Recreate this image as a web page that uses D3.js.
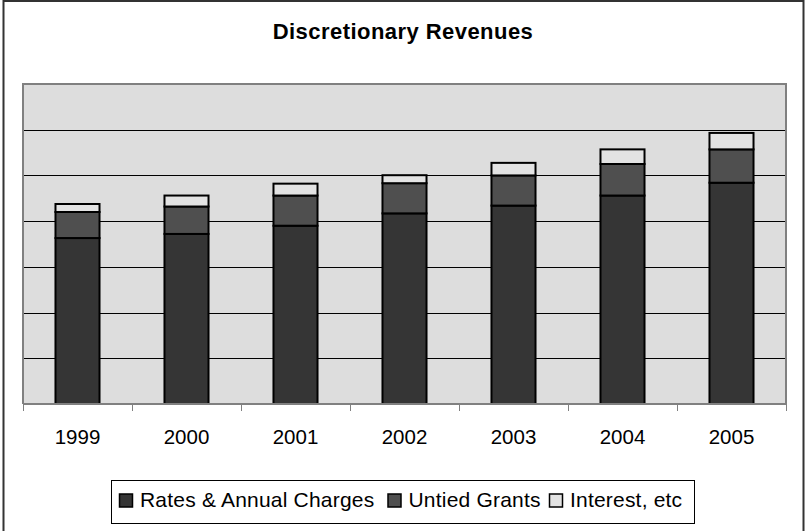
<!DOCTYPE html>
<html>
<head>
<meta charset="utf-8">
<script src="https://cdn.jsdelivr.net/npm/d3@7/dist/d3.min.js"></script>
<style>
  html, body { margin: 0; padding: 0; background: #ffffff; }
  svg { display: block; }
  text { font-family: "Liberation Sans", Arial, sans-serif; fill: #000; }
</style>
</head>
<body>
<svg id="chart" width="806" height="531"></svg>
<script>
const years = ["1999", "2000", "2001", "2002", "2003", "2004", "2005"];
const ratesAnnualCharges = [36.3, 37.2, 39.0, 41.7, 43.4, 45.6, 48.4];
const untiedGrants = [5.7, 6.0, 6.6, 6.6, 6.6, 6.9, 7.3];
const interestEtc = [1.75, 2.4, 2.6, 1.75, 2.75, 3.2, 3.6];
const seriesNames = ["Rates & Annual Charges", "Untied Grants", "Interest, etc"];
const seriesColors = ["#353535", "#4f4f4f", "#e3e3e3"];
const yTicks = [0, 10, 20, 30, 40, 50, 60, 70];
const chartTitle = "Discretionary Revenues";

const svg = d3.select("#chart");
const plot = { left: 23, right: 786, top: 84, bottom: 404 };

// outer border
svg.append("rect")
  .attr("x", 3.5).attr("y", 1).attr("width", 800).attr("height", 560)
  .attr("fill", "#fff").attr("stroke", "#333").attr("stroke-width", 2);

// title
svg.append("text")
  .attr("x", 403).attr("y", 38.5)
  .attr("text-anchor", "middle")
  .style("font-size", "22px").style("font-weight", "bold")
  .style("letter-spacing", "0.45px")
  .text(chartTitle);

const x = d3.scaleBand()
  .domain(years)
  .range([plot.left, plot.right])
  .paddingInner(0.596)
  .paddingOuter(0.298);

const y = d3.scaleLinear()
  .domain([0, 70])
  .range([plot.bottom, plot.top]);

// plot area background
svg.append("rect")
  .attr("x", plot.left).attr("y", plot.top)
  .attr("width", plot.right - plot.left).attr("height", plot.bottom - plot.top)
  .attr("fill", "#dddddd");

// gridlines
svg.append("g")
  .selectAll("line")
  .data(yTicks.filter(t => t > 0 && t < 70))
  .join("line")
  .attr("x1", plot.left).attr("x2", plot.right)
  .attr("y1", d => Math.round(y(d)) + 0.5).attr("y2", d => Math.round(y(d)) + 0.5)
  .attr("stroke", "#000").attr("stroke-width", 1);

// plot border (left, top, right)
svg.append("path")
  .attr("d", `M${plot.left},${plot.bottom} L${plot.left},${plot.top} L${plot.right},${plot.top} L${plot.right},${plot.bottom}`)
  .attr("fill", "none").attr("stroke", "#808080").attr("stroke-width", 2);

// stacked data
const table = years.map((yr, i) => ({
  year: yr,
  [seriesNames[0]]: ratesAnnualCharges[i],
  [seriesNames[1]]: untiedGrants[i],
  [seriesNames[2]]: interestEtc[i]
}));
const stacked = d3.stack().keys(seriesNames)(table);

const groups = svg.append("g").selectAll("g")
  .data(stacked)
  .join("g")
  .attr("fill", (d, i) => seriesColors[i]);

groups.selectAll("rect")
  .data(d => d)
  .join("rect")
  .attr("x", d => x(d.data.year))
  .attr("width", x.bandwidth())
  .attr("y", d => y(d[1]))
  .attr("height", d => y(d[0]) - y(d[1]))
  .attr("stroke", "#000")
  .attr("stroke-width", 2);

// x axis
const xAxis = svg.append("g")
  .attr("transform", `translate(0,${plot.bottom})`);
xAxis.append("line")
  .attr("x1", plot.left).attr("x2", plot.right)
  .attr("y1", 0).attr("y2", 0)
  .attr("stroke", "#808080").attr("stroke-width", 2);
const boundaries = d3.range(years.length + 1).map(i => plot.left + i * x.step());
xAxis.selectAll("line.tick")
  .data(boundaries)
  .join("line")
  .attr("class", "tick")
  .attr("x1", d => Math.round(d) + 0.5).attr("x2", d => Math.round(d) + 0.5)
  .attr("y1", 0).attr("y2", 7)
  .attr("stroke", "#808080").attr("stroke-width", 1);
xAxis.selectAll("text")
  .data(years)
  .join("text")
  .attr("x", d => x(d) + x.bandwidth() / 2)
  .attr("y", 40)
  .attr("text-anchor", "middle")
  .style("font-size", "20.5px")
  .text(d => d);

// legend
const legend = svg.append("g");
legend.append("rect")
  .attr("x", 111.5).attr("y", 480.5).attr("width", 583).attr("height", 43)
  .attr("fill", "#fff").attr("stroke", "#000").attr("stroke-width", 1);
const legendX = [119.5, 388, 549.5];
const items = legend.selectAll("g.item")
  .data(seriesNames)
  .join("g")
  .attr("class", "item")
  .attr("transform", (d, i) => `translate(${legendX[i]},0)`);
items.append("rect")
  .attr("x", 0).attr("y", 494).attr("width", 13).attr("height", 13)
  .attr("fill", (d, i) => seriesColors[i])
  .attr("stroke", "#000").attr("stroke-width", 1.5);
items.append("text")
  .attr("x", 20.5).attr("y", 507)
  .style("font-size", "21px")
  .style("letter-spacing", "0.2px")
  .text(d => d);
</script>
</body>
</html>
